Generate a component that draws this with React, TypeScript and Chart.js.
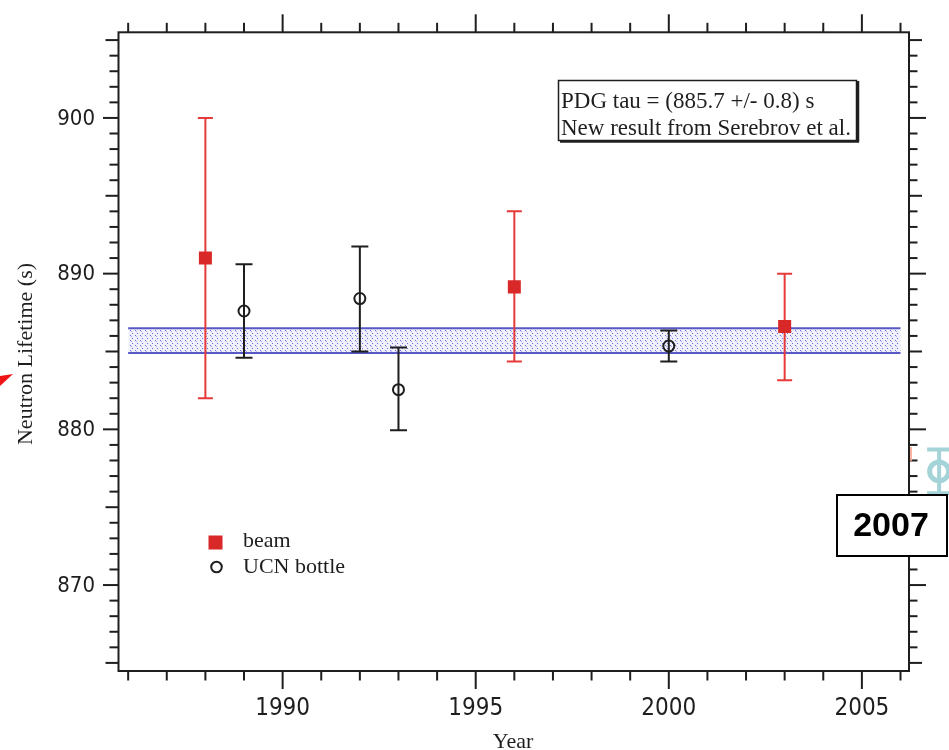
import React, { useEffect, useRef } from 'react';
import { Chart, registerables } from 'chart.js';

Chart.register(...registerables);

// ---------------- data ----------------
const beamYears = [1988, 1996, 2003];
const beamValues = [891.0, 889.15, 886.6];
const beamErrUp = [9.0, 4.85, 3.4];
const beamErrDown = [9.0, 4.8, 3.45];

const ucnYears = [1989, 1992, 1993, 2000];
const ucnValues = [887.6, 888.4, 882.55, 885.35];
const ucnErrUp = [3.0, 3.35, 2.7, 1.0];
const ucnErrDown = [3.0, 3.4, 2.6, 1.0];

// overlaid 2007 point (partly outside the frame)
const newYears = [2007];
const newValues = [877.3];
const newErrUp = [1.4];
const newErrDown = [1.4];

// PDG band
const bandYears = [1986, 2006];
const pdgTau = 885.7;
const pdgErr = 0.8;

const xRange = [1985.75, 2006.22];
const yRange = [864.48, 905.5];
const xTickLabels = [1990, 1995, 2000, 2005];
const yTickLabels = [870, 880, 890, 900];

const legendLabels = ['beam', 'UCN bottle'];
const annotationLines = ['PDG tau = (885.7 +/- 0.8) s', 'New result from Serebrov et al.'];
const xTitle = 'Year';
const yTitle = 'Neutron Lifetime (s)';
const stampText = '2007';

const RED = 'rgb(230,58,58)';
const RED_MARK = 'rgb(216,40,40)';
const BLACK = '#1e1e1e';
const TEAL = 'rgb(165,212,216)';
const BLUE = 'rgb(88,88,196)';

const NARROW = '"Liberation Sans Narrow", "Arial Narrow", "DejaVu Sans Condensed", sans-serif';
const SERIF = '"Liberation Serif", "Times New Roman", serif';

function makePattern(): CanvasPattern | string {
  const c = document.createElement('canvas');
  c.width = 5;
  c.height = 5;
  const g = c.getContext('2d');
  if (!g) return 'rgba(88,88,196,0.3)';
  g.fillStyle = 'rgba(120,120,235,0.10)';
  g.fillRect(0, 0, 5, 5);
  g.fillStyle = 'rgba(90,90,225,0.9)';
  g.fillRect(0, 0, 1, 1);
  g.fillRect(2, 3, 1, 1);
  g.fillStyle = 'rgba(90,90,225,0.45)';
  g.fillRect(1, 1, 1, 1);
  const p = g.createPattern(c, 'repeat');
  return p || 'rgba(88,88,196,0.3)';
}

const errorBarPlugin = {
  id: 'errorBars',
  beforeDatasetDraw(chart: any, args: any) {
    const ds = chart.data.datasets[args.index];
    if (!ds.errUp) return;
    const { ctx, scales } = chart;
    const xs = scales.x;
    const ys = scales.y;
    ctx.save();
    ctx.strokeStyle = ds.errColor;
    ctx.lineWidth = ds.errWidth;
    const cap = ds.capHalf;
    ds.data.forEach((pt: any, i: number) => {
      const px = xs.getPixelForValue(pt.x);
      const top = ys.getPixelForValue(pt.y + ds.errUp[i]);
      const bot = ys.getPixelForValue(pt.y - ds.errDown[i]);
      ctx.beginPath();
      ctx.moveTo(px, top);
      ctx.lineTo(px, bot);
      ctx.moveTo(px - cap, top);
      ctx.lineTo(px + cap, top);
      ctx.moveTo(px - cap, bot);
      ctx.lineTo(px + cap, bot);
      ctx.stroke();
    });
    ctx.restore();
  },
  afterDatasetDraw(chart: any, args: any) {
    // markers lying outside the chart area are skipped by Chart.js; draw them here
    const ds = chart.data.datasets[args.index];
    if (!ds.drawOutside) return;
    const { ctx, scales } = chart;
    ctx.save();
    ctx.strokeStyle = ds.borderColor;
    ctx.lineWidth = ds.borderWidth;
    ds.data.forEach((pt: any) => {
      const px = scales.x.getPixelForValue(pt.x);
      const py = scales.y.getPixelForValue(pt.y);
      ctx.beginPath();
      ctx.arc(px, py, ds.pointRadius, 0, Math.PI * 2);
      ctx.stroke();
    });
    ctx.restore();
  },
};

const framePlugin = {
  id: 'frame',
  afterDraw(chart: any) {
    const { ctx, chartArea: a, scales } = chart;
    const xs = scales.x;
    const ys = scales.y;
    ctx.save();
    ctx.strokeStyle = BLACK;
    ctx.lineWidth = 2;
    ctx.lineCap = 'butt';
    const line = (x1: number, y1: number, x2: number, y2: number) => {
      ctx.beginPath();
      ctx.moveTo(x1, y1);
      ctx.lineTo(x2, y2);
      ctx.stroke();
    };
    // frame
    ctx.strokeRect(a.left, a.top, a.right - a.left, a.bottom - a.top);
    // x ticks
    for (let v = Math.ceil(xs.min); v <= Math.floor(xs.max); v++) {
      const px = xs.getPixelForValue(v);
      const major = v % 5 === 0;
      line(px, a.bottom, px, a.bottom + (major ? 18 : 9.5));
      line(px, a.top, px, a.top - (major ? 18 : 9.5));
    }
    // y ticks
    for (let v = Math.ceil(ys.min); v <= Math.floor(ys.max); v++) {
      const py = ys.getPixelForValue(v);
      const lenL = v % 10 === 0 ? 15.5 : v % 5 === 0 ? 13 : 9;
      const lenR = v % 10 === 0 ? 17 : v % 5 === 0 ? 13 : 8.5;
      line(a.left - lenL, py, a.left, py);
      line(a.right, py, a.right + lenR, py);
    }
    // tick labels
    ctx.fillStyle = BLACK;
    ctx.font = '24px ' + NARROW;
    ctx.textAlign = 'center';
    ctx.textBaseline = 'middle';
    xTickLabels.forEach((v) => {
      ctx.fillText(String(v), xs.getPixelForValue(v), 709);
    });
    ctx.font = '22px ' + NARROW;
    ctx.textAlign = 'right';
    yTickLabels.forEach((v) => {
      ctx.fillText(String(v), 95, ys.getPixelForValue(v) + 1);
    });
    // axis titles
    ctx.font = '22px ' + SERIF;
    ctx.textAlign = 'center';
    ctx.textBaseline = 'alphabetic';
    ctx.fillText(xTitle, 513, 748);
    ctx.save();
    ctx.translate(32, 354);
    ctx.rotate(-Math.PI / 2);
    ctx.textBaseline = 'alphabetic';
    ctx.fillText(yTitle, 0, 0);
    ctx.restore();

    // legend
    ctx.fillStyle = RED_MARK;
    ctx.fillRect(208.5, 535.5, 14, 14);
    ctx.strokeStyle = BLACK;
    ctx.lineWidth = 2;
    ctx.beginPath();
    ctx.arc(216.5, 567, 5.3, 0, Math.PI * 2);
    ctx.stroke();
    ctx.fillStyle = BLACK;
    ctx.font = '22px ' + SERIF;
    ctx.textAlign = 'left';
    ctx.textBaseline = 'middle';
    ctx.fillText(legendLabels[0], 243, 541);
    ctx.fillText(legendLabels[1], 243, 567);

    // annotation box
    ctx.fillStyle = '#fff';
    ctx.fillRect(558, 80, 299, 61);
    ctx.strokeStyle = BLACK;
    ctx.lineWidth = 1.5;
    ctx.strokeRect(558.5, 80.5, 298, 60);
    ctx.lineWidth = 2.5;
    line(858, 81, 858, 142);
    line(560, 141.5, 859, 141.5);
    ctx.fillStyle = BLACK;
    ctx.font = '23px ' + SERIF;
    ctx.textAlign = 'left';
    ctx.textBaseline = 'middle';
    ctx.fillText(annotationLines[0], 561, 102);
    ctx.fillText(annotationLines[1], 561, 128.5);

    // "2007" stamp
    ctx.fillStyle = '#fff';
    ctx.fillRect(837, 495, 111, 61);
    ctx.strokeStyle = '#000';
    ctx.lineWidth = 2;
    ctx.strokeRect(837, 495, 110, 61);
    ctx.fillStyle = '#000';
    ctx.font = 'bold 34px "Liberation Sans", Arial, sans-serif';
    ctx.textAlign = 'center';
    ctx.textBaseline = 'middle';
    ctx.fillText(stampText, 891, 527);

    // red pointer fragment at left edge
    ctx.fillStyle = 'rgb(240,20,20)';
    ctx.beginPath();
    ctx.moveTo(0, 376);
    ctx.lineTo(13, 374);
    ctx.lineTo(0, 386);
    ctx.closePath();
    ctx.fill();
    // faint pink fragment near right axis
    ctx.strokeStyle = 'rgba(250,160,140,0.8)';
    ctx.lineWidth = 2;
    line(911, 447, 911, 461);
    ctx.restore();
  },
};

export default function App() {
  const ref = useRef<HTMLCanvasElement | null>(null);

  useEffect(() => {
    if (!ref.current) return;
    const pattern = makePattern();
    const chart = new Chart(ref.current, {
      type: 'scatter',
      data: {
        datasets: [
          {
            label: legendLabels[0],
            data: beamYears.map((x, i) => ({ x, y: beamValues[i] })),
            pointStyle: 'rect',
            pointRadius: 9.2,
            backgroundColor: RED_MARK,
            borderWidth: 0,
            order: 0,
            errUp: beamErrUp,
            errDown: beamErrDown,
            errColor: RED,
            errWidth: 2,
            capHalf: 7.5,
          } as any,
          {
            label: legendLabels[1],
            data: ucnYears.map((x, i) => ({ x, y: ucnValues[i] })),
            pointStyle: 'circle',
            pointRadius: 5.5,
            backgroundColor: 'rgba(0,0,0,0)',
            borderColor: BLACK,
            borderWidth: 2,
            order: 1,
            errUp: ucnErrUp,
            errDown: ucnErrDown,
            errColor: BLACK,
            errWidth: 2,
            capHalf: 8.5,
          } as any,
          {
            label: 'new',
            data: newYears.map((x, i) => ({ x, y: newValues[i] })),
            pointStyle: 'circle',
            pointRadius: 9.5,
            backgroundColor: 'rgba(0,0,0,0)',
            borderColor: TEAL,
            borderWidth: 5,
            clip: false,
            drawOutside: true,
            order: 2,
            errUp: newErrUp,
            errDown: newErrDown,
            errColor: TEAL,
            errWidth: 4,
            capHalf: 12,
          } as any,
          {
            type: 'line',
            label: 'PDG upper',
            data: bandYears.map((x) => ({ x, y: pdgTau + pdgErr })),
            borderColor: BLUE,
            borderWidth: 2,
            pointRadius: 0,
            fill: '+1',
            backgroundColor: pattern as any,
            order: 5,
          } as any,
          {
            type: 'line',
            label: 'PDG lower',
            data: bandYears.map((x) => ({ x, y: pdgTau - pdgErr })),
            borderColor: BLUE,
            borderWidth: 2,
            pointRadius: 0,
            fill: false,
            order: 5,
          } as any,
        ],
      },
      options: {
        responsive: false,
        animation: false,
        devicePixelRatio: 1,
        events: [],
        layout: { padding: { left: 118.5, top: 32.3, right: 40, bottom: 79 } },
        scales: {
          x: { type: 'linear', min: xRange[0], max: xRange[1], display: false },
          y: { type: 'linear', min: yRange[0], max: yRange[1], display: false },
        },
        plugins: {
          legend: { display: false },
          tooltip: { enabled: false },
        },
      },
      plugins: [errorBarPlugin, framePlugin],
    });
    return () => chart.destroy();
  }, []);

  return (
    <div style={{ position: 'absolute', left: 0, top: 0, width: 949, height: 750, background: '#fff' }}>
      <canvas ref={ref} width={949} height={750} style={{ display: 'block' }} />
    </div>
  );
}
